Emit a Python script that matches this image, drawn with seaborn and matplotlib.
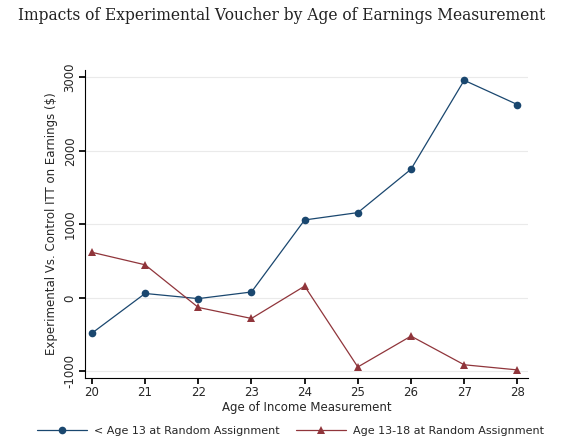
import matplotlib
matplotlib.use("Agg")
import matplotlib.pyplot as plt
import seaborn as sns
import pandas as pd

ages = [20, 21, 22, 23, 24, 25, 26, 27, 28]
under13 = [-480, 60, -10, 80, 1060, 1160, 1750, 2960, 2630]
age13_18 = [620, 450, -130, -280, 160, -940, -520, -910, -980]

sns.set_theme(style="white")
plt.rcParams['font.family'] = ['DejaVu Sans']

fig = plt.figure(figsize=(5.64, 4.48), dpi=100)
ax = fig.add_axes([85/564, 1-378/448, (528-85)/564, (378-70)/448])

df = pd.DataFrame({"age": ages * 2, "itt": under13 + age13_18,
                   "grp": ["< Age 13 at Random Assignment"] * 9 + ["Age 13-18 at Random Assignment"] * 9})
sns.lineplot(data=df, x="age", y="itt", hue="grp", style="grp",
             markers={"< Age 13 at Random Assignment": "o", "Age 13-18 at Random Assignment": "^"},
             dashes=False, palette=["#1a476f", "#90353b"], linewidth=0.9, markersize=5.5,
             markeredgewidth=0, ax=ax, legend=False)

ax.set_xlim(19.87, 28.2)
ax.set_ylim(-1090, 3100)
ax.set_xticks(ages)
ax.set_yticks([-1000, 0, 1000, 2000, 3000])
ax.set_yticklabels(["-1000", "0", "1000", "2000", "3000"], rotation=90, va="center")
ax.grid(axis="y", color="#eaeaea", linewidth=0.8)
for s in ["top", "right"]:
    ax.spines[s].set_visible(False)
for s in ["left", "bottom"]:
    ax.spines[s].set_color("black"); ax.spines[s].set_linewidth(0.8)
ax.tick_params(axis="both", length=4, color="black", labelsize=8.5, left=True, bottom=True, pad=2)
ax.set_xlabel("Age of Income Measurement", fontsize=8.5, labelpad=1)
ax.set_ylabel("Experimental Vs. Control ITT on Earnings ($)", fontsize=8.5, labelpad=4)

fig.text(0.5, 1-16/448, "Impacts of Experimental Voucher by Age of Earnings Measurement",
         ha="center", va="center", fontsize=11.2, family="DejaVu Serif", color="#222222")

from matplotlib.lines import Line2D
h = [Line2D([], [], color="#1a476f", marker="o", lw=0.9, ms=5.5, mew=0),
     Line2D([], [], color="#90353b", marker="^", lw=0.9, ms=5.5, mew=0)]
fig.legend(h, ["< Age 13 at Random Assignment", "Age 13-18 at Random Assignment"],
           loc="center", bbox_to_anchor=(0.515, 1-431/448), ncol=2, frameon=False,
           fontsize=8, handlelength=4.5, columnspacing=1.5, handletextpad=0.6)

fig.savefig("out.png", dpi=100, facecolor="white")
